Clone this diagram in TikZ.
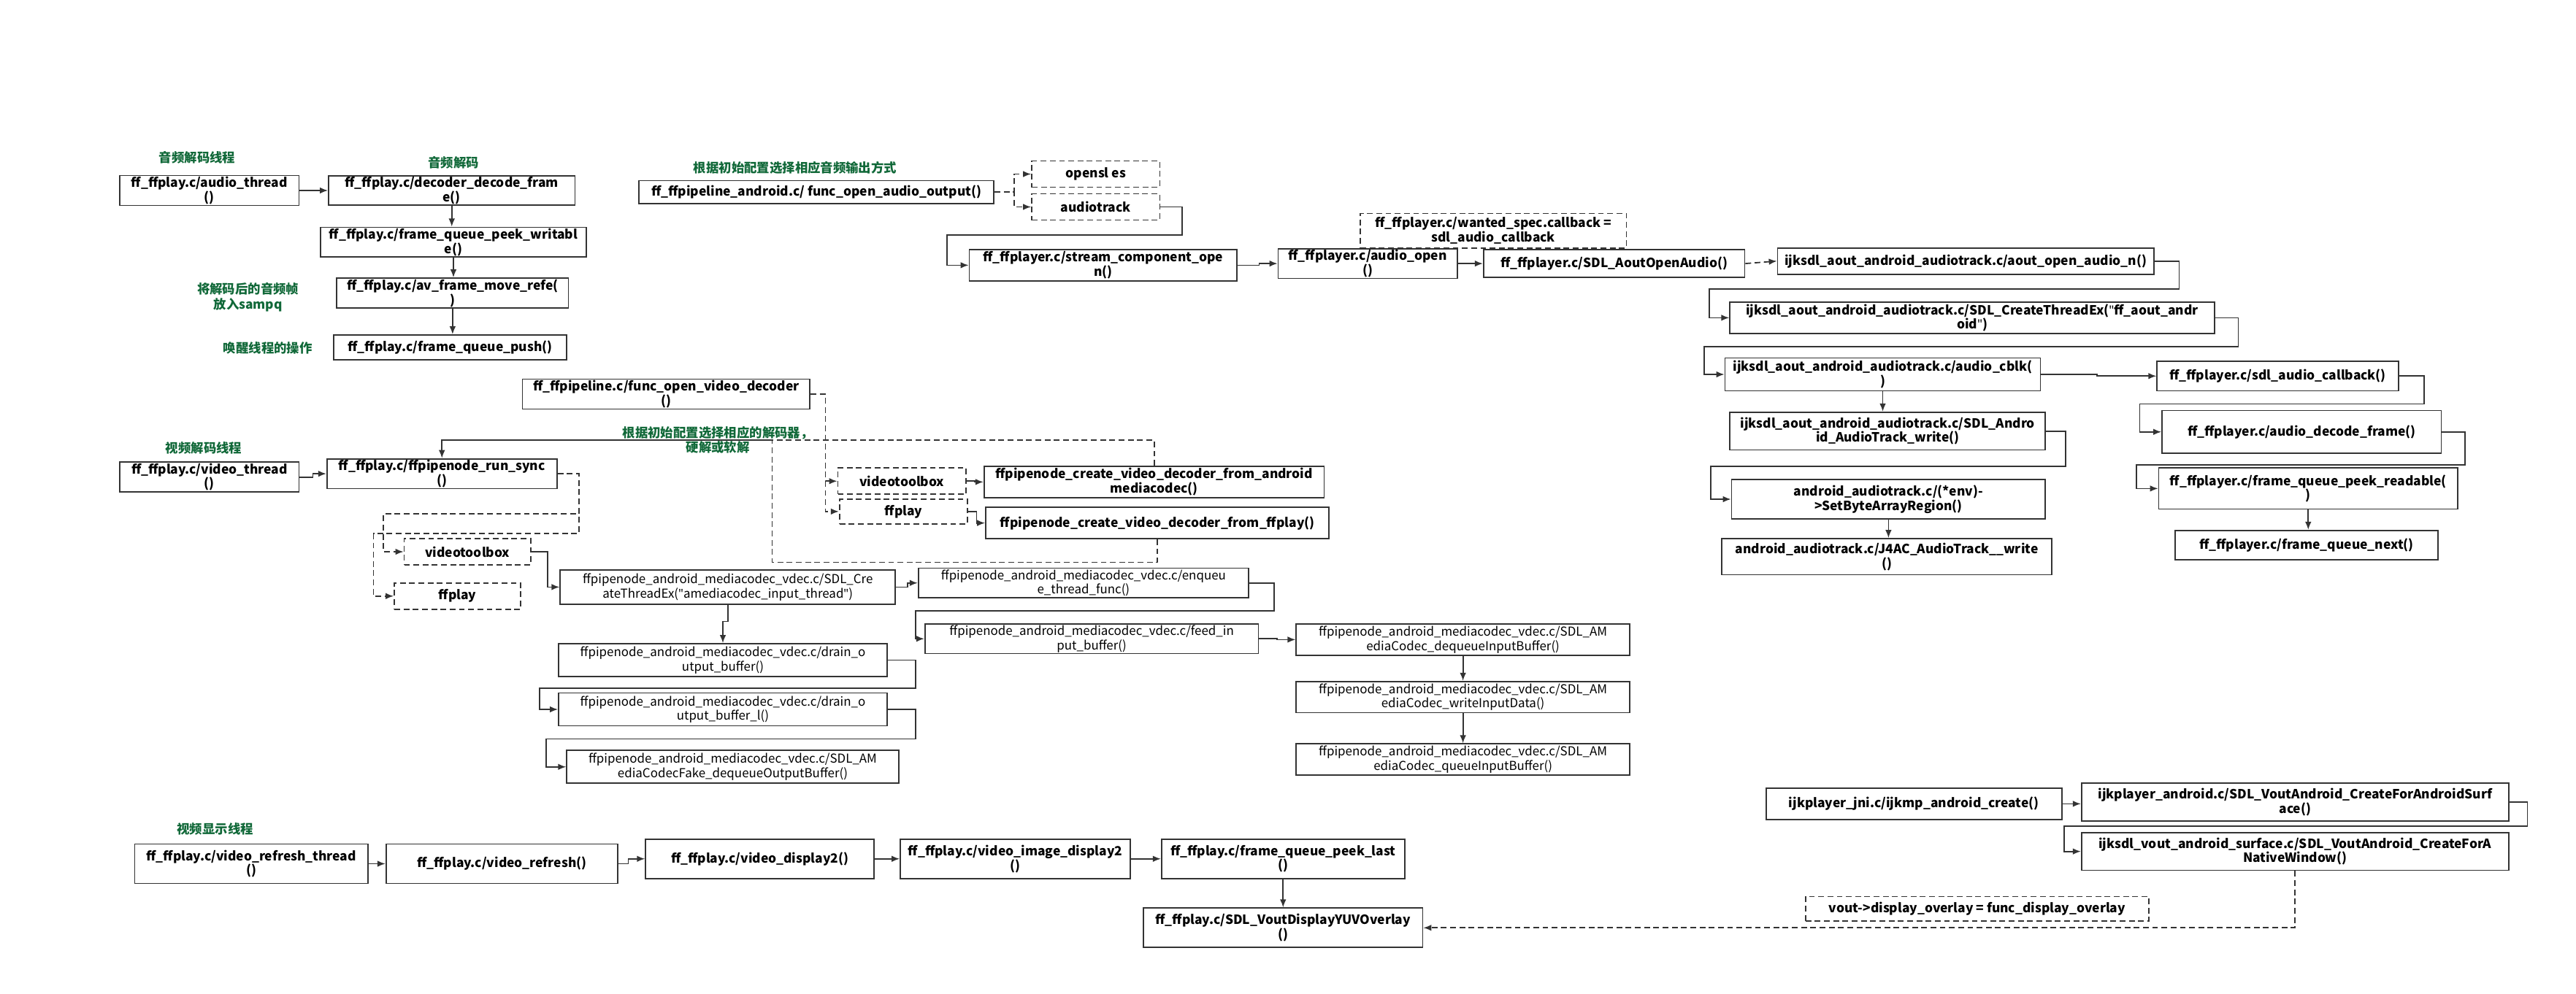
\documentclass[tikz,border=0pt]{standalone}
\usepackage{fontspec}
\setmainfont{Noto Sans CJK SC}
\newfontfamily\quotefont{Noto Sans}
\newcommand{\dq}{{\quotefont"}}
\usepackage{tikz}
\usetikzlibrary{arrows.meta}

\definecolor{linegray}{RGB}{51,51,51}
\definecolor{labelgreen}{RGB}{16,104,56}

\begin{document}
\begin{tikzpicture}[
  x=0.05cm, y=-0.05cm,
  box/.style={
      rectangle,
      draw=linegray,
      line width=1.1pt,
      align=center,
      inner sep=1pt,
      font=\bfseries\fontsize{11}{12.5}\selectfont,
      fill=white
  },
  lightbox/.style={
      box,
      font=\fontsize{10.7}{12.5}\selectfont
  },
  choice/.style={
      box,
      dash pattern=on 5pt off 3pt
  },
  note/.style={
      align=center,
      text=labelgreen,
      font=\bfseries\fontsize{11}{13}\selectfont
  },
  arrow/.style={
      ->,
      draw=linegray,
      line width=1.1pt,
      >={Latex[length=7pt,width=5.5pt]}
  },
  darrow/.style={
      arrow,
      dash pattern=on 5pt off 3pt
  },
  dline/.style={
      draw=linegray,
      line width=1.1pt,
      dash pattern=on 5pt off 3pt
  },
  bw/.style={minimum width=#1*0.05cm},
  bh/.style={minimum height=#1*0.05cm}
]

\useasboundingbox (0,0) rectangle (1568,605);

% ==================================================
% Audio decode thread
% ==================================================

\node[note] (lblAth) at (120,96) {音频解码线程};
\node[note] (lblDec) at (276,99) {音频解码};
\node[note] (lblSampq) at (151,181) {将解码后的音频帧\\放入sampq};
\node[note] (lblWake) at (163,212) {唤醒线程的操作};

\node[box, bw=109, bh=16] (ath) at (127.5,116)
{ff\_ffplay.c/audio\_thread\\()};

\node[box, bw=150, bh=16] (dec) at (275,116)
{ff\_ffplay.c/decoder\_decode\_fram\\e()};

\node[box, bw=162, bh=17] (peekw) at (276,147.5)
{ff\_ffplay.c/frame\_queue\_peek\_writabl\\e()};

\node[box, bw=141, bh=17] (mvref) at (275.5,178.5)
{ff\_ffplay.c/av\_frame\_move\_refe(\\)};

\node[box, bw=142, bh=15] (qpush) at (274,211.5)
{ff\_ffplay.c/frame\_queue\_push()};

% ==================================================
% Audio output open
% ==================================================

\node[note] (lblAout) at (484,102) {根据初始配置选择相应音频输出方式};

\node[box, bw=216, bh=14] (aout) at (497,117)
{ff\_ffpipeline\_android.c/ func\_open\_audio\_output()};

\node[choice, bw=78, bh=16] (opensl) at (667,106) {opensl es};
\node[choice, bw=78, bh=16] (atrack) at (667,126) {audiotrack};

\node[box, bw=163, bh=19] (scopen) at (671.5,161.5)
{ff\_ffplayer.c/stream\_component\_ope\\n()};

\node[choice, bw=162, bh=21] (wanted) at (909,140.5)
{ff\_ffplayer.c/wanted\_spec.callback =\\sdl\_audio\_callback};

\node[box, bw=109, bh=17] (aopen) at (832.5,160.5)
{ff\_ffplayer.c/audio\_open\\()};

\node[box, bw=159, bh=17] (sdlaout) at (982.5,160.5)
{ff\_ffplayer.c/SDL\_AoutOpenAudio()};

\node[box, bw=229, bh=16] (aoutn) at (1196.5,159)
{ijksdl\_aout\_android\_audiotrack.c/aout\_open\_audio\_n()};

\node[box, bw=295, bh=19] (cthr) at (1200.5,193.5)
{ijksdl\_aout\_android\_audiotrack.c/SDL\_CreateThreadEx(\dq ff\_aout\_andr\\oid\dq)};

\node[box, bw=192, bh=20] (cblk) at (1146,228)
{ijksdl\_aout\_android\_audiotrack.c/audio\_cblk(\\)};

\node[box, bw=192, bh=23] (atwrite) at (1149,262.5)
{ijksdl\_aout\_android\_audiotrack.c/SDL\_Andro\\id\_AudioTrack\_write()};

\node[box, bw=191, bh=24] (setbyte) at (1149.5,304)
{android\_audiotrack.c/(*env)-\\>SetByteArrayRegion()};

\node[box, bw=201, bh=22] (j4ac) at (1148.5,339)
{android\_audiotrack.c/J4AC\_AudioTrack\_\_write\\()};

\node[box, bw=147, bh=18] (sdlcb) at (1386.5,229)
{ff\_ffplayer.c/sdl\_audio\_callback()};

\node[box, bw=170, bh=26] (adecf) at (1401,263)
{ff\_ffplayer.c/audio\_decode\_frame()};

\node[box, bw=182, bh=25] (peekr) at (1405,297.5)
{ff\_ffplayer.c/frame\_queue\_peek\_readable(\\)};

\node[box, bw=160, bh=18] (qnext) at (1404,332)
{ff\_ffplayer.c/frame\_queue\_next()};

% ==================================================
% Video decode thread
% ==================================================

\node[note] (lblVth) at (124,273) {视频解码线程};
\node[note] (lblSel) at (437,268) {根据初始配置选择相应的解码器，\\硬解或软解};

\node[box, bw=175, bh=14] (ovdec) at (405.5,240)
{ff\_ffpipeline.c/func\_open\_video\_decoder\\()};

\node[box, bw=109, bh=17] (vth) at (127.5,290.5)
{ff\_ffplay.c/video\_thread\\()};

\node[box, bw=140, bh=15] (rsync) at (269,288.5)
{ff\_ffplay.c/ffpipenode\_run\_sync\\()};

\node[choice, bw=78, bh=16] (vtb1) at (549,293) {videotoolbox};
\node[choice, bw=78, bh=15] (ffp1) at (550,311.5) {ffplay};

\node[box, bw=207, bh=19] (fromMc) at (702.5,293.5)
{ffpipenode\_create\_video\_decoder\_from\_android\\mediacodec()};

\node[box, bw=209, bh=19] (fromFf) at (704.5,318.5)
{ffpipenode\_create\_video\_decoder\_from\_ffplay()};

\node[choice, bw=77, bh=16] (vtb2) at (284.5,336) {videotoolbox};
\node[choice, bw=77, bh=16] (ffp2) at (278.5,363) {ffplay};

\node[lightbox, bw=204, bh=21] (mthr) at (443,357.5)
{ffpipenode\_android\_mediacodec\_vdec.c/SDL\_Cre\\ateThreadEx(\dq amediacodec\_input\_thread\dq)};

\node[lightbox, bw=201, bh=18] (enq) at (659.5,355)
{ffpipenode\_android\_mediacodec\_vdec.c/enqueu\\e\_thread\_func()};

\node[lightbox, bw=203, bh=18] (feed) at (664.5,389)
{ffpipenode\_android\_mediacodec\_vdec.c/feed\_in\\put\_buffer()};

\node[lightbox, bw=203, bh=19] (dqin) at (890.5,389.5)
{ffpipenode\_android\_mediacodec\_vdec.c/SDL\_AM\\ediaCodec\_dequeueInputBuffer()};

\node[lightbox, bw=203, bh=19] (wrin) at (890.5,424.5)
{ffpipenode\_android\_mediacodec\_vdec.c/SDL\_AM\\ediaCodec\_writeInputData()};

\node[lightbox, bw=203, bh=19] (qin) at (890.5,462.5)
{ffpipenode\_android\_mediacodec\_vdec.c/SDL\_AM\\ediaCodec\_queueInputBuffer()};

\node[lightbox, bw=200, bh=20] (drain) at (440,402)
{ffpipenode\_android\_mediacodec\_vdec.c/drain\_o\\utput\_buffer()};

\node[lightbox, bw=200, bh=20] (drainl) at (440,432)
{ffpipenode\_android\_mediacodec\_vdec.c/drain\_o\\utput\_buffer\_l()};

\node[lightbox, bw=202, bh=20] (dqout) at (446,467)
{ffpipenode\_android\_mediacodec\_vdec.c/SDL\_AM\\ediaCodecFake\_dequeueOutputBuffer()};

\coordinate (jn) at (470,268);

% ==================================================
% Video display thread
% ==================================================

\node[note] (lblDisp) at (131,505) {视频显示线程};

\node[box, bw=142, bh=24] (rth) at (153,526)
{ff\_ffplay.c/video\_refresh\_thread\\()};

\node[box, bw=141, bh=24] (vref) at (305.5,526)
{ff\_ffplay.c/video\_refresh()};

\node[box, bw=139, bh=24] (vdisp) at (462.5,523)
{ff\_ffplay.c/video\_display2()};

\node[box, bw=140, bh=24] (vimg) at (618,523)
{ff\_ffplay.c/video\_image\_display2\\()};

\node[box, bw=148, bh=24] (peekl) at (781,523)
{ff\_ffplay.c/frame\_queue\_peek\_last\\()};

\node[box, bw=170, bh=24] (yuv) at (781,565)
{ff\_ffplay.c/SDL\_VoutDisplayYUVOverlay\\()};

% ==================================================
% Vout creation
% ==================================================

\node[box, bw=180, bh=19] (jcreate) at (1165,489.5)
{ijkplayer\_jni.c/ijkmp\_android\_create()};

\node[box, bw=260, bh=23] (vsurf) at (1397,488.5)
{ijkplayer\_android.c/SDL\_VoutAndroid\_CreateForAndroidSurf\\ace()};

\node[box, bw=260, bh=23] (vwin) at (1397,518.5)
{ijksdl\_vout\_android\_surface.c/SDL\_VoutAndroid\_CreateForA\\NativeWindow()};

\node[choice, bw=209, bh=15] (dover) at (1203.5,553.5)
{vout->display\_overlay = func\_display\_overlay};

% ==================================================
% Connections
% ==================================================

% audio decode
\draw[arrow] (ath.east) -- (dec.west);
\draw[arrow] (dec.south) -- (dec.south |- peekw.north);
\draw[arrow] (peekw.south) -- (peekw.south |- mvref.north);
\draw[arrow] (mvref.south) -- (mvref.south |- qpush.north);

% audio output
\draw[darrow] (aout.east) -- ++(12,0) |- (opensl.west);
\draw[darrow] (aout.east) -- ++(12,0) |- (atrack.west);
\draw[arrow] (atrack.east) -- ++(13,0) -- ++(0,17) -- ++(-143,0) |- (scopen.west);
\draw[arrow] (scopen.east) -- ++(13,0) |- (aopen.west);
\draw[arrow] (aopen.east) -- (sdlaout.west);
\draw[darrow] (sdlaout.east) -- (aoutn.west);
\draw[arrow] (aoutn.east) -- ++(15,0) -- ++(0,17) -- ++(-286,0) |- (cthr.west);
\draw[arrow] (cthr.east) -- ++(14,0) -- ++(0,17.5) -- ++(-325,0) |- (cblk.west);
\draw[arrow] (cblk.south) -- (cblk.south |- atwrite.north);
\draw[arrow] (cblk.east) -- ++(34,0) |- (sdlcb.west);
\draw[arrow] (atwrite.east) -- ++(12,0) -- ++(0,21.5) -- ++(-216,0) |- (setbyte.west);
\draw[arrow] (setbyte.south) -- (setbyte.south |- j4ac.north);
\draw[arrow] (sdlcb.east) -- ++(15,0) -- ++(0,17) -- ++(-173,0) |- (adecf.west);
\draw[arrow] (adecf.east) -- ++(14,0) -- ++(0,20) -- ++(-200,0) |- (peekr.west);
\draw[arrow] (peekr.south) -- (peekr.south |- qnext.north);

% video decode
\draw[arrow] (vth.east) -- ++(8,0) |- (rsync.west);
\draw[darrow] (ovdec.east) -- ++(9,0) |- (vtb1.west);
\draw[darrow] (ovdec.east) -- ++(9,0) |- (ffp1.west);
\draw[arrow] (vtb1.east) -- ++(5,0) |- (fromMc.west);
\draw[arrow] (ffp1.east) -- ++(5,0) |- (fromFf.west);
\draw[dline] (fromMc.north) |- (jn);
\draw[dline] (fromFf.south) -- ++(0,14) -| (jn);
\draw[arrow] (jn) -| (rsync.north);
\draw[darrow] (rsync.east) -- ++(13,0) -- ++(0,24.5) -- ++(-119,0) |- (vtb2.west);
\draw[darrow] (rsync.east) -- ++(13,0) -- ++(0,36.5) -- ++(-125,0) |- (ffp2.west);
\draw[arrow] (vtb2.east) -- ++(10,0) |- (mthr.west);
\draw[arrow] (mthr.east) -- ++(7,0) |- (enq.west);
\draw[arrow] (enq.east) -- ++(15,0) -- ++(0,17) -- ++(-218,0) |- (feed.west);
\draw[arrow] (feed.east) -- ++(11,0) |- (dqin.west);
\draw[arrow] (dqin.south) -- (dqin.south |- wrin.north);
\draw[arrow] (wrin.south) -- (wrin.south |- qin.north);
\draw[arrow] (mthr.south) -- ++(0,10) -| (drain.north);
\draw[arrow] (drain.east) -- ++(17,0) -- ++(0,17) -- ++(-229,0) |- (drainl.west);
\draw[arrow] (drainl.east) -- ++(17,0) -- ++(0,18) -- ++(-225,0) |- (dqout.west);

% video display
\draw[arrow] (rth.east) -- (vref.west);
\draw[arrow] (vref.east) -- ++(6,0) |- (vdisp.west);
\draw[arrow] (vdisp.east) -- (vimg.west);
\draw[arrow] (vimg.east) -- (peekl.west);
\draw[arrow] (peekl.south) -- (yuv.north);

% vout
\draw[arrow] (jcreate.east) -- (jcreate.east -| vsurf.west);
\draw[arrow] (vsurf.east) -- ++(11,0) -- ++(0,14.5) -- ++(-282,0) |- (vwin.west);
\draw[darrow] (vwin.south) |- (yuv.east);

\end{tikzpicture}
\end{document}
